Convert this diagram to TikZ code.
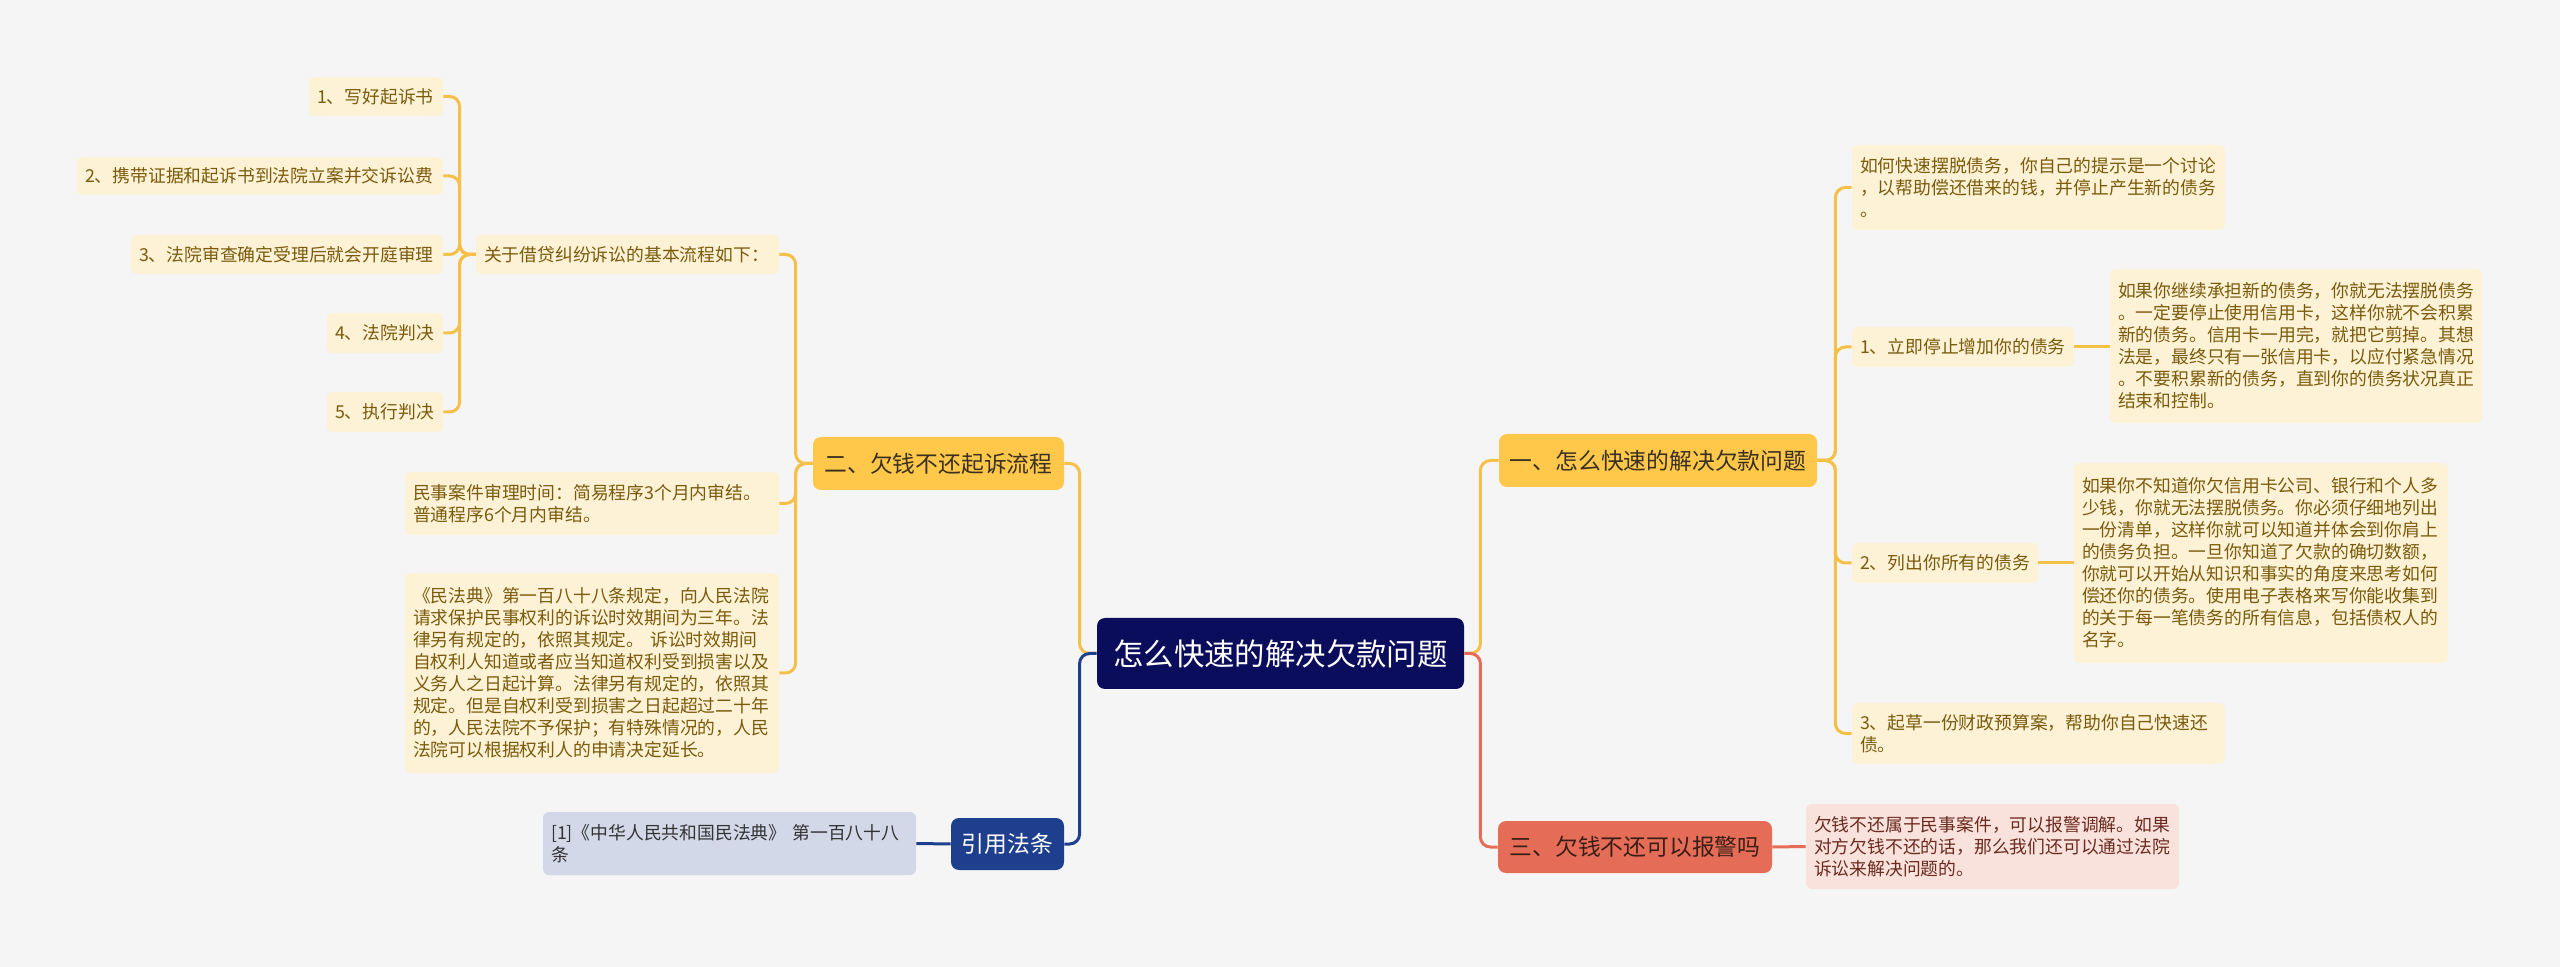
\documentclass[tikz,border=0pt]{standalone}
\usepackage{fontspec}
\setmainfont{Noto Sans CJK SC}
\definecolor{bg}{HTML}{F5F5F5}
\definecolor{ymain}{HTML}{FFC84B}
\definecolor{yline}{HTML}{F5C04A}
\definecolor{leaffill}{HTML}{FEF2D6}
\definecolor{leaftext}{HTML}{7A5B0C}
\definecolor{maintext}{HTML}{3A3020}
\definecolor{rootfill}{HTML}{0A0C5C}
\definecolor{rmain}{HTML}{E56D57}
\definecolor{rtext}{HTML}{3A1E16}
\definecolor{notefill}{HTML}{FAE2DC}
\definecolor{notetext}{HTML}{6A2A1E}
\definecolor{bmain}{HTML}{1E3F8E}
\definecolor{reffill}{HTML}{D3D8E8}
\definecolor{reftext}{HTML}{333333}
\tikzset{
  leaf/.style={fill=leaffill, text=leaftext, rounded corners=3pt, inner xsep=4pt, inner ysep=0pt, align=left, font=\fontsize{8.9}{11}\selectfont},
  mainbox/.style={rounded corners=4pt, inner sep=0pt, align=center, font=\fontsize{11.4}{13}\selectfont},
  ybox/.style={mainbox, fill=ymain, text=maintext},
  yconn/.style={draw=yline, line width=1.5pt, rounded corners=5pt},
  rconn/.style={draw=rmain, line width=1.5pt, rounded corners=5pt},
  bconn/.style={draw=bmain, line width=1.5pt, rounded corners=5pt},
}
\begin{document}
\begin{tikzpicture}[x=0.5pt,y=-0.5pt]
\fill[bg] (0,0) rectangle (2560,967);
\useasboundingbox (0,0) rectangle (2560,967);

% root
\node[mainbox, fill=rootfill, text=white, minimum width=183.5pt, minimum height=35.5pt, font=\fontsize{15.2}{17}\selectfont] (root) at (1280.5,653.5) {怎么快速的解决欠款问题};

% left branch: 二
\node[ybox, minimum width=125.5pt, minimum height=26.5pt] (er) at (938.5,463.5) {二、欠钱不还起诉流程};
\node[leaf, text width=143.5pt, minimum height=19.5pt] (k) at (627.5,254.5) {关于借贷纠纷诉讼的基本流程如下：};
\node[leaf, text width=59pt, minimum height=19.5pt] (l1) at (376,96.5) {1、写好起诉书};
\node[leaf, text width=175pt, minimum height=19pt] (l2) at (260,176) {2、携带证据和起诉书到法院立案并交诉讼费};
\node[leaf, text width=148pt, minimum height=19.5pt] (l3) at (287,254.5) {3、法院审查确定受理后就会开庭审理};
\node[leaf, text width=50pt, minimum height=20pt] (l4) at (385,333) {4、法院判决};
\node[leaf, text width=50pt, minimum height=20pt] (l5) at (385,412) {5、执行判决};
\node[leaf, text width=179pt, minimum height=31.5pt] (m) at (592,503.5) {民事案件审理时间：简易程序3个月内审结。\\普通程序6个月内审结。};
\node[leaf, text width=179pt, minimum height=100pt] (f) at (592,673) {《民法典》第一百八十八条规定，向人民法院\\请求保护民事权利的诉讼时效期间为三年。法\\律另有规定的，依照其规定。 诉讼时效期间\\自权利人知道或者应当知道权利受到损害以及\\义务人之日起计算。法律另有规定的，依照其\\规定。但是自权利受到损害之日起超过二十年\\的，人民法院不予保护；有特殊情况的，人民\\法院可以根据权利人的申请决定延长。};

% left branch: 引用法条
\node[mainbox, fill=bmain, text=white, minimum width=56.5pt, minimum height=26pt] (y) at (1007.5,844) {引用法条};
\node[leaf, fill=reffill, text=reftext, text width=178.5pt, minimum height=31.5pt] (ref) at (729.5,843.5) {[1]《中华人民共和国民法典》 第一百八十八\\条};

% right branch: 一
\node[ybox, minimum width=159pt, minimum height=26.5pt] (yi) at (1658,460.5) {一、怎么快速的解决欠款问题};
\node[leaf, text width=178.5pt, minimum height=42.5pt] (a) at (2038.5,187.5) {如何快速摆脱债务，你自己的提示是一个讨论\\，以帮助偿还借来的钱，并停止产生新的债务\\。};
\node[leaf, text width=103pt, minimum height=20pt] (b1) at (1963,347) {1、立即停止增加你的债务};
\node[leaf, text width=178pt, minimum height=77pt] (b1c) at (2296,346) {如果你继续承担新的债务，你就无法摆脱债务\\。一定要停止使用信用卡，这样你就不会积累\\新的债务。信用卡一用完，就把它剪掉。其想\\法是，最终只有一张信用卡，以应付紧急情况\\。不要积累新的债务，直到你的债务状况真正\\结束和控制。};
\node[leaf, text width=85pt, minimum height=20pt] (b2) at (1945,563) {2、列出你所有的债务};
\node[leaf, text width=179pt, minimum height=100pt] (b2c) at (2261,563) {如果你不知道你欠信用卡公司、银行和个人多\\少钱，你就无法摆脱债务。你必须仔细地列出\\一份清单，这样你就可以知道并体会到你肩上\\的债务负担。一旦你知道了欠款的确切数额，\\你就可以开始从知识和事实的角度来思考如何\\偿还你的债务。使用电子表格来写你能收集到\\的关于每一笔债务的所有信息，包括债权人的\\名字。};
\node[leaf, text width=178.5pt, minimum height=30.5pt] (b3) at (2038.5,733.5) {3、起草一份财政预算案，帮助你自己快速还\\债。};

% right branch: 三
\node[mainbox, fill=rmain, text=rtext, minimum width=137pt, minimum height=26pt] (san) at (1635,847) {三、欠钱不还可以报警吗};
\node[leaf, fill=notefill, text=notetext, text width=178.5pt, minimum height=42.5pt] (note) at (1992.5,846.5) {欠钱不还属于民事案件，可以报警调解。如果\\对方欠钱不还的话，那么我们还可以通过法院\\诉讼来解决问题的。};

% connectors
\draw[yconn] (root.west) -- ++(-17,0) |- (er.east);
\draw[bconn] (root.west) -- ++(-17,0) |- (y.east);
\draw[yconn] (root.east) -- ++(16,0) |- (yi.west);
\draw[rconn] (root.east) -- ++(16,0) |- (san.west);

\draw[yconn] (er.west) -- ++(-17,0) |- (k.east);
\draw[yconn] (er.west) -- ++(-17,0) |- (m.east);
\draw[yconn] (er.west) -- ++(-17,0) |- (f.east);

\draw[yconn] (k.west) -- ++(-16,0) |- (l1.east);
\draw[yconn] (k.west) -- ++(-16,0) |- (l2.east);
\draw[yconn] (k.west) -- ++(-16,0) |- (l3.east);
\draw[yconn] (k.west) -- ++(-16,0) |- (l4.east);
\draw[yconn] (k.west) -- ++(-16,0) |- (l5.east);

\draw[bconn] (y.west) -- (ref.east);

\draw[yconn] (yi.east) -- ++(18,0) |- (a.west);
\draw[yconn] (yi.east) -- ++(18,0) |- (b1.west);
\draw[yconn] (yi.east) -- ++(18,0) |- (b2.west);
\draw[yconn] (yi.east) -- ++(18,0) |- (b3.west);
\draw[yconn] (b1.east) -- (b1.east -| b1c.west);
\draw[yconn] (b2.east) -- (b2c.west);

\draw[rconn] (san.east) -- (note.west);
\end{tikzpicture}
\end{document}
